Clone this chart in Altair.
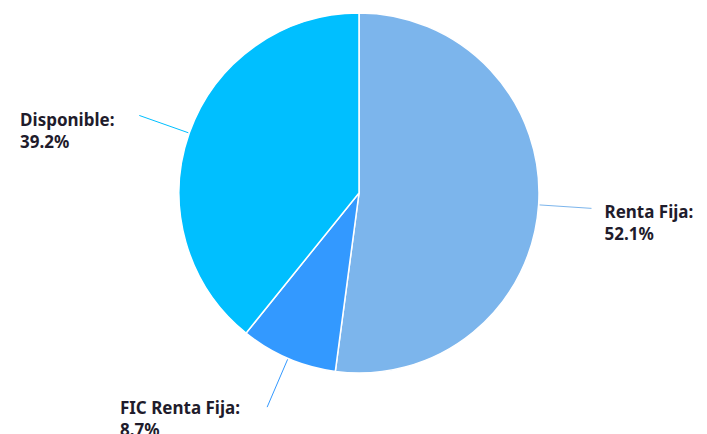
import altair as alt
import pandas as pd

categories = ["Renta Fija", "FIC Renta Fija", "Disponible"]
shares = [52.1, 8.7, 39.2]
colors = ["#7cb5ec", "#3399ff", "#00bfff"]

df = pd.DataFrame({"name": categories, "value": shares, "idx": list(range(len(categories)))})

CX, CY, R, RC, RA = 351, 185, 180, 233, 230

domain_scale = alt.Scale(domain=categories, range=colors)

pie = alt.Chart(df).mark_arc(
    outerRadius=R, stroke="white", strokeWidth=1.5, x=CX, y=CY
).encode(
    theta=alt.Theta("value:Q", stack=True),
    order=alt.Order("idx:Q"),
    color=alt.Color("name:N", scale=domain_scale, legend=None),
)

geo = alt.Chart(df).transform_joinaggregate(
    total="sum(value)"
).transform_window(
    cum="sum(value)", sort=[alt.SortField("idx")], frame=[None, 0]
).transform_calculate(
    a="(datum.cum - datum.value/2)/datum.total*2*PI"
).transform_calculate(
    px1=f"{CX}+{R + 1}*sin(datum.a)",
    py1=f"{CY}-{R + 1}*cos(datum.a)",
    px2=f"{CX}+{RC}*sin(datum.a)",
    py2=f"{CY}-{RC}*cos(datum.a)",
    ax=f"{CX}+{RA}*sin(datum.a)",
    ay=f"{CY}-{RA}*cos(datum.a)",
).transform_calculate(
    tx="sin(datum.a) > 0 ? datum.ax + 16 : datum.ax - 22 - (27.4 + length(datum.name + ':') * 6.6)",
    ty="datum.ay + 10",
    label="datum.name + ':\\n' + format(datum.value, '.1f') + '%'",
)

rules = geo.mark_rule(strokeWidth=1).encode(
    x=alt.X("px1:Q", scale=None, axis=None),
    y=alt.Y("py1:Q", scale=None, axis=None),
    x2="px2:Q",
    y2="py2:Q",
    color=alt.Color("name:N", scale=domain_scale, legend=None),
)

texts = geo.mark_text(
    align="left", baseline="alphabetic", font="Noto Sans", fontSize=17,
    fontWeight="bold", lineBreak="\n", lineHeight=22, color="#1f1c2c",
).encode(
    x=alt.X("tx:Q", scale=None, axis=None),
    y=alt.Y("ty:Q", scale=None, axis=None),
    text="label:N",
)

chart = alt.layer(pie, rules, texts).properties(
    width=691, height=426, padding=0,
    autosize=alt.AutoSizeParams(type="none"),
).configure_view(stroke=None)

chart.save("out.html", embed_options={"renderer": "svg", "actions": False})
